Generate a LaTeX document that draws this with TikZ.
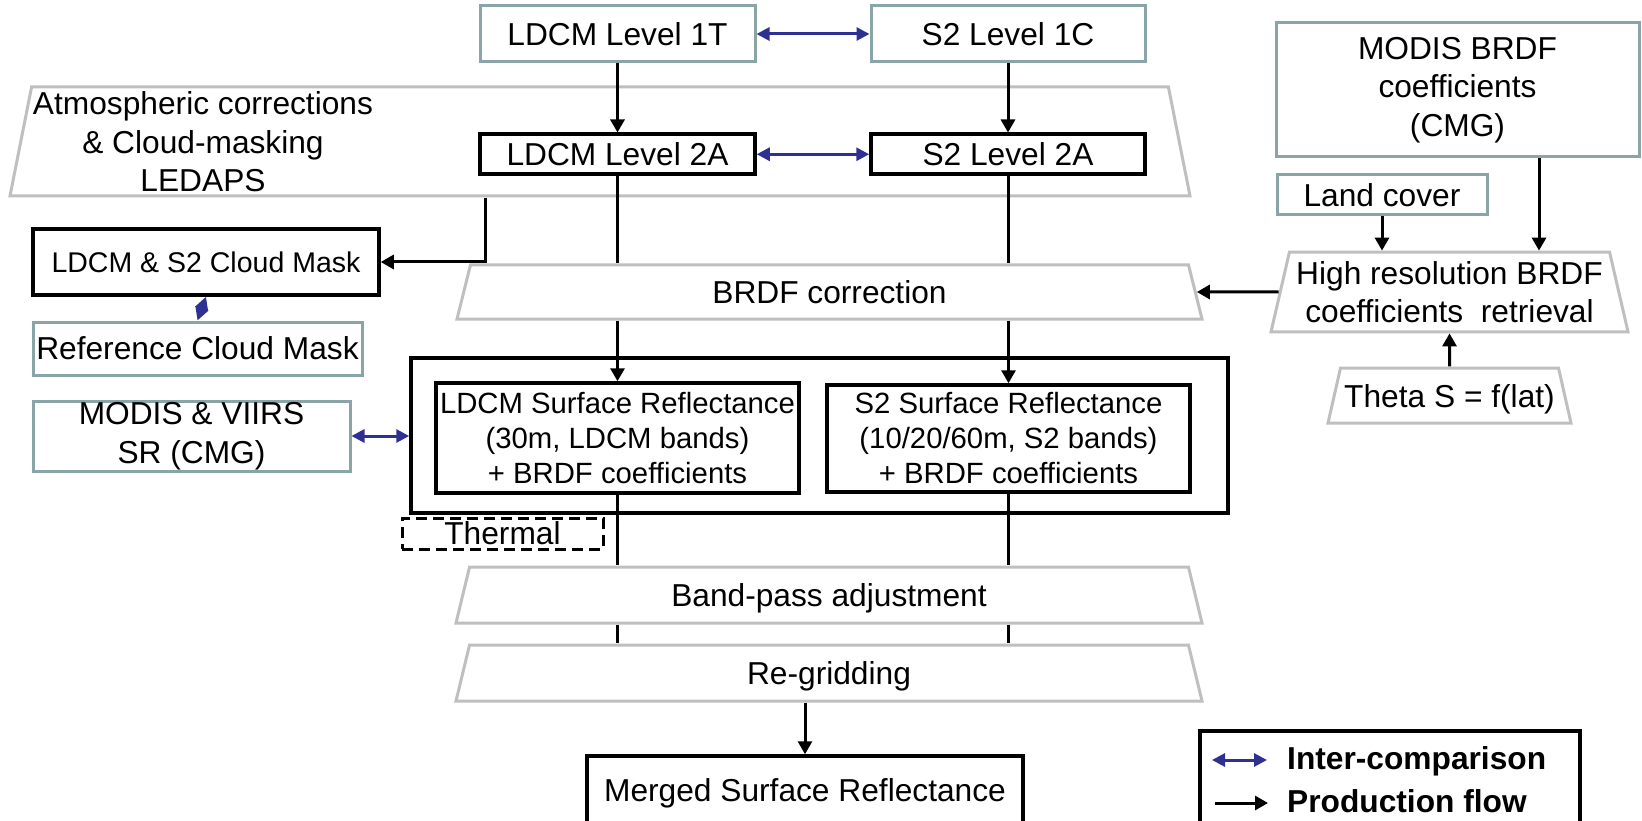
\documentclass[tikz,border=0pt]{standalone}
\usepackage{fontspec}
\setmainfont{Liberation Sans}
\usetikzlibrary{positioning, arrows.meta, shapes.geometric}
\definecolor{tealgray}{RGB}{138,165,168}
\definecolor{trapgray}{RGB}{191,191,191}
\definecolor{cmpblue}{RGB}{46,49,146}

\begin{document}
\begin{tikzpicture}[x=1pt, y=-1pt,
        font=\fontsize{31.7}{38.5}\selectfont,%
        ext/.style = {draw=tealgray, line width=3pt, inner sep=0pt, align=center},%
        prod/.style = {draw=black, line width=3.5pt, inner sep=0pt, align=center},%
        trap/.style = {draw=trapgray, line width=3pt, trapezium, trapezium stretches body=true, inner xsep=2pt, align=center},%
        trapline/.style = {trap, text height=23pt, text depth=0pt},%
        small/.style = {font=\fontsize{29.3}{35}\selectfont},%
        keytext/.style = {anchor=base west, inner sep=0pt, font=\fontsize{31.7}{38.5}\selectfont\bfseries},%
        link/.style = {line width=3pt},%
        flow/.style = {line width=3pt, -{Triangle[length=13pt, width=14pt]}},%
        compare/.style = {cmpblue, line width=3pt, {Triangle[length=13pt, width=13pt]}-{Triangle[length=13pt, width=13pt]}}%
    ]%
        \useasboundingbox (0,0) rectangle (1642,821);
        \node[trap, text height=0pt, text depth=0pt, inner ysep=54.5pt, minimum width=1180, trapezium angle=78.8] (atmos) at (600,141.5) {};
        \node[align=center, inner sep=0pt] (atmostext) at (203,142) {Atmospheric corrections\\ \& Cloud-masking\\ LEDAPS};
        \node[ext, minimum width=275, minimum height=56] (ldcmA) at (617.5,34) {LDCM Level 1T};
        \node[ext, minimum width=274, minimum height=56, right=113pt of ldcmA] (stwoA) {S2 Level 1C};
        \node[prod, minimum width=275, minimum height=40, below=69pt of ldcmA] (ldcmB) {LDCM Level 2A};
        \node[prod, minimum width=274, minimum height=40] (stwoB) at (stwoA |- ldcmB) {S2 Level 2A};
        \node[ext, minimum width=363, minimum height=134] (modisbrdf) at (1457.5,90) {MODIS BRDF\\coefficients\\(CMG)};
        \node[ext, minimum width=210, minimum height=40] (landcover) at (1382,195) {Land cover};
        \node[trap, inner ysep=9pt, minimum width=357, trapezium angle=77] (highres) at (1449.5,292) {High resolution BRDF\\coefficients\ \ retrieval};
        \node[trapline, inner ysep=16pt, minimum width=243, trapezium angle=77.2] (theta) at (1449.5,395.5) {Theta S = f(lat)};
        \node[trapline, inner ysep=15.5pt, minimum width=745, trapezium angle=76] (brdf) at (829.5,292) {BRDF correction};
        \node[prod, minimum width=346, minimum height=66, font=\fontsize{28.5}{34}\selectfont] (cloudmask) at (206,262) {LDCM \& S2 Cloud Mask};
        \node[ext, minimum width=329, minimum height=53] (refmask) at (197.5,348.5) {Reference Cloud Mask};
        \node[prod, minimum width=817, minimum height=155] (bigbox) at (819.5,435.5) {};
        \node[prod, small, minimum width=363, minimum height=110] (ldcmsr) at (617.5,438) {LDCM Surface Reflectance\\(30m, LDCM bands)\\+ BRDF coefficients};
        \node[prod, small, minimum width=363, minimum height=107] (stwosr) at (1008.5,438.5) {S2 Surface Reflectance\\(10/20/60m, S2 bands)\\+ BRDF coefficients};
        \node[ext, minimum width=317, minimum height=70] (modisviirs) at (191.5,436) {MODIS \& VIIRS\\SR (CMG)};
        \node[draw, line width=3pt, dash pattern=on 11pt off 6pt, inner sep=0pt, text depth=0pt, minimum width=201, minimum height=31] (thermal) at (502.5,533.5) {Thermal};
        \node[trapline, inner ysep=16.5pt, minimum width=746, trapezium angle=76.4] (bandpass) at (829,595) {Band-pass adjustment};
        \node[trapline, inner ysep=16.5pt, minimum width=746, trapezium angle=76.4] (regrid) at (829,673) {Re-gridding};
        \node[prod, minimum width=436, minimum height=74] (merged) at (805,793) {Merged Surface Reflectance};
        \node[prod, minimum width=380, minimum height=110] (key) at (1390,786) {};
        \node[keytext] (keycmp) at (1287,769) {Inter-comparison};
        \node[keytext] (keyflow) at (1287,812) {Production flow};
        \draw[compare] (ldcmA) -- (stwoA);
        \draw[compare] (ldcmB) -- (stwoB);
        \draw[flow] (ldcmA) -- (ldcmB);
        \draw[flow] (stwoA) -- (stwoB);
        \draw[link] (ldcmB) -- (ldcmB |- brdf.north);
        \draw[link] (stwoB) -- (stwoB |- brdf.north);
        \draw[flow] (ldcmsr |- brdf.south) -- (ldcmsr);
        \draw[flow] (stwosr |- brdf.south) -- (stwosr);
        \draw[link] (ldcmsr) -- (ldcmsr |- bandpass.north);
        \draw[link] (stwosr) -- (stwosr |- bandpass.north);
        \draw[link] (ldcmsr |- bandpass.south) -- (ldcmsr |- regrid.north);
        \draw[link] (stwosr |- bandpass.south) -- (stwosr |- regrid.north);
        \draw[flow] (merged |- regrid.south) -- (merged);
        \coordinate (maskout) at (ldcmB.west |- atmos.south);
        \draw[flow] ([xshift=7pt]maskout) |- (cloudmask);
        \draw[compare] (cloudmask.south) -- (refmask.north);
        \draw[compare] (modisviirs) -- (modisviirs -| bigbox.west);
        \draw[flow] (landcover) -- (landcover |- highres.north);
        \coordinate (modisout) at ([xshift=81.5pt]modisbrdf.south);
        \draw[flow] (modisout) -- (modisout |- highres.north);
        \draw[flow] (highres.west) -- (brdf.east);
        \draw[flow] (theta) -- (highres);
        \draw[compare] ([xshift=-75pt,yshift=9pt]keycmp.base west) -- ([xshift=-20pt,yshift=9pt]keycmp.base west);
        \draw[flow] ([xshift=-72pt,yshift=9pt]keyflow.base west) -- ([xshift=-19pt,yshift=9pt]keyflow.base west);
    \end{tikzpicture}
\end{document}
